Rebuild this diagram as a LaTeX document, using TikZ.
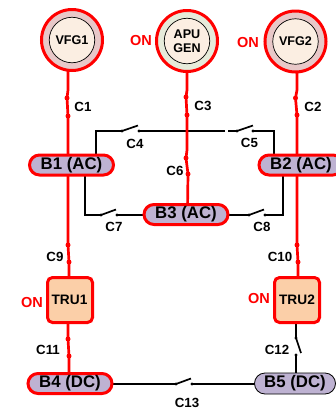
\documentclass[tikz,border=0pt]{standalone}
\usepackage{fontspec}
\setmainfont{Liberation Sans}
\definecolor{busFill}{HTML}{BEB2D2}
\definecolor{genFill}{HTML}{FBEEE2}
\definecolor{vfgRing}{HTML}{E8C8C8}
\definecolor{apuRing}{HTML}{E6EBDA}
\definecolor{truFill}{HTML}{FBCFA8}
\usetikzlibrary{positioning, shapes.misc}

\begin{document}
\begin{tikzpicture}[x=1pt, y=-1pt,
  every node/.style={font=\bfseries\fontsize{13.3}{14}\selectfont, inner sep=0pt},
  ringa/.style={circle, draw=red, line width=3pt, minimum size=61pt},
  inner/.style={circle, draw=black, line width=0.7pt, fill=genFill, align=center, minimum size=45.5pt, font=\bfseries\fontsize{12.6}{14.5}\selectfont},
  busa/.style={rounded rectangle, draw=red, line width=3pt, fill=busFill, minimum width=84pt, minimum height=20pt, font=\bfseries\fontsize{16.8}{18}\selectfont},
  busb/.style={rounded rectangle, draw=black, line width=0.8pt, fill=busFill, minimum width=81pt, minimum height=21pt, font=\bfseries\fontsize{16.8}{18}\selectfont},
  truebox/.style={draw=red, line width=3pt, fill=truFill, rounded corners=5pt, minimum width=45pt, minimum height=45pt},
  onlabel/.style={text=red, font=\bfseries\fontsize{14.5}{15}\selectfont},
  pointdot/.style={circle, fill=#1, minimum size=5pt},
  feeder/.style={red, line width=2.7pt},
  tiewire/.style={black, line width=1.7pt}
]
  \useasboundingbox (0,0) rectangle (336,416);

  % feeders
  \coordinate (c1a) at (67,98);
  \coordinate (c1b) at (68,116);
  \coordinate (c3a) at (186,97);
  \coordinate (c3b) at (187,115);
  \coordinate (c2a) at (295.5,98);
  \coordinate (c2b) at (297,115);
  \coordinate (c6a) at (186,158);
  \coordinate (c6b) at (188,174);
  \coordinate (c9a) at (68,245);
  \coordinate (c9b) at (69,262);
  \coordinate (c10a) at (297,245);
  \coordinate (c10b) at (298,262);
  \coordinate (c11a) at (68,339);
  \coordinate (c11b) at (69,356);

  % tie contactors
  \coordinate (c4l) at (96,131);
  \coordinate (c4a) at (122,131);
  \coordinate (c4b) at (139,131);
  \coordinate (c4e) at (225,131);
  \coordinate (c5s) at (228,131);
  \coordinate (c5a) at (237,131);
  \coordinate (c5b) at (253,131);
  \coordinate (c5r) at (274,131);
  \coordinate (c7l) at (85,215);
  \coordinate (c7a) at (101,215);
  \coordinate (c7b) at (117,215);
  \coordinate (c8a) at (249,215);
  \coordinate (c8b) at (265,215);
  \coordinate (c8r) at (283,215);
  \coordinate (c13a) at (176,384);
  \coordinate (c13b) at (192,384);
  \coordinate (c12a) at (296,338);
  \coordinate (c12b) at (296,355);

  \draw[tiewire] (96,160) -- (c4l) -- (c4a) -- ++(16,-5.5);
  \draw[tiewire] (c4b) -- (c4e);
  \draw[tiewire] (c5s) -- (c5a) -- ++(16,-5.5);
  \draw[tiewire] (c5b) -- (c5r) -- (274,160);
  \draw[tiewire] (85,170) -- (c7l) -- (c7a) -- ++(15,-5.5);
  \draw[tiewire] (c7b) -- (150,215);
  \draw[tiewire] (225,215) -- (c8a) -- ++(15,-5.5);
  \draw[tiewire] (c8b) -- (c8r) -- (283,170);
  \draw[tiewire] (105,384) -- (c13a) -- ++(15,-5.5);
  \draw[tiewire] (c13b) -- (260,384);
  \draw[tiewire] (296,320) -- (c12a) -- (301,353);
  \draw[tiewire] (c12b) -- (296,375);

  \draw[feeder] (68,70) -- (68,90) -- (c1a) -- (c1b) -- (68,237) -- (c9a) -- (c9b) -- (69,280);
  \draw[feeder] (187,70) -- (187,90) -- (c3a) -- (c3b) -- (187,150) -- (c6a) -- (c6b) -- (187.5,210);
  \draw[feeder] (297,70) -- (297,90) -- (c2a) -- (c2b) -- (297,237) -- (c10a) -- (c10b) -- (298,280);
  \draw[feeder] (68,320) -- (c11a) -- (c11b) -- (69,375);

  \foreach \dot in {c1a,c1b,c3a,c3b,c2a,c2b,c6a,c6b,c9a,c9b,c10a,c10b,c11a,c11b}{
    \node[pointdot=red] (d\dot) at (\dot) {};
  }
  \foreach \dot in {c4a,c4b,c5a,c5b,c7a,c7b,c8a,c8b,c13a,c13b,c12a,c12b}{
    \node[pointdot=black, minimum size=3.4pt] (d\dot) at (\dot) {};
  }

  \node[ringa, fill=vfgRing] (ring1) at (72,40) {};
  \node[inner] (vfg1) at (72,40) {VFG1};
  \node[ringa, fill=apuRing] (ring3) at (187,41) {};
  \node[inner] (apu) at (187,41) {APU\\GEN};
  \node[ringa, fill=vfgRing] (ring2) at (295.5,41.5) {};
  \node[inner] (vfg2) at (295.5,41.5) {VFG2};

  \node[busa] (b1) at (71.5,165) {B1 (AC)};
  \node[busa] (b2) at (301,165) {B2 (AC)};
  \node[busa] (b3) at (186,214.5) {B3 (AC)};
  \node[busa] (b4) at (70,383.5) {B4 (DC)};
  \node[busb] (b5) at (295,383.5) {B5 (DC)};

  \node[truebox] (tru1) at (70,300) {};
  \node[truebox] (tru2) at (297,300) {};
  \node[font=\bfseries\fontsize{13.7}{14}\selectfont] (tru1t) at (69.5,300) {TRU1};
  \node[font=\bfseries\fontsize{13.7}{14}\selectfont] (tru2t) at (297,300) {TRU2};

  \node[onlabel] (on3) at (141,41) {ON};
  \node[onlabel] (on2) at (248,43) {ON};
  \node[onlabel] (on4) at (32,303) {ON};
  \node[onlabel] (on5) at (259,299) {ON};

  \node (c1) at (83,107) {C1};
  \node (c3) at (203,106) {C3};
  \node (c2) at (313,107) {C2};
  \node (c4) at (135,144) {C4};
  \node (c5) at (249.5,143) {C5};
  \node (c6) at (175,171) {C6};
  \node (c7) at (114,227) {C7};
  \node (c8) at (262,227) {C8};
  \node (c9) at (55,257) {C9};
  \node (c10) at (280,257) {C10};
  \node (c11) at (48,350) {C11};
  \node (c12) at (277,350) {C12};
  \node (c13) at (187,403) {C13};
\end{tikzpicture}
\end{document}
